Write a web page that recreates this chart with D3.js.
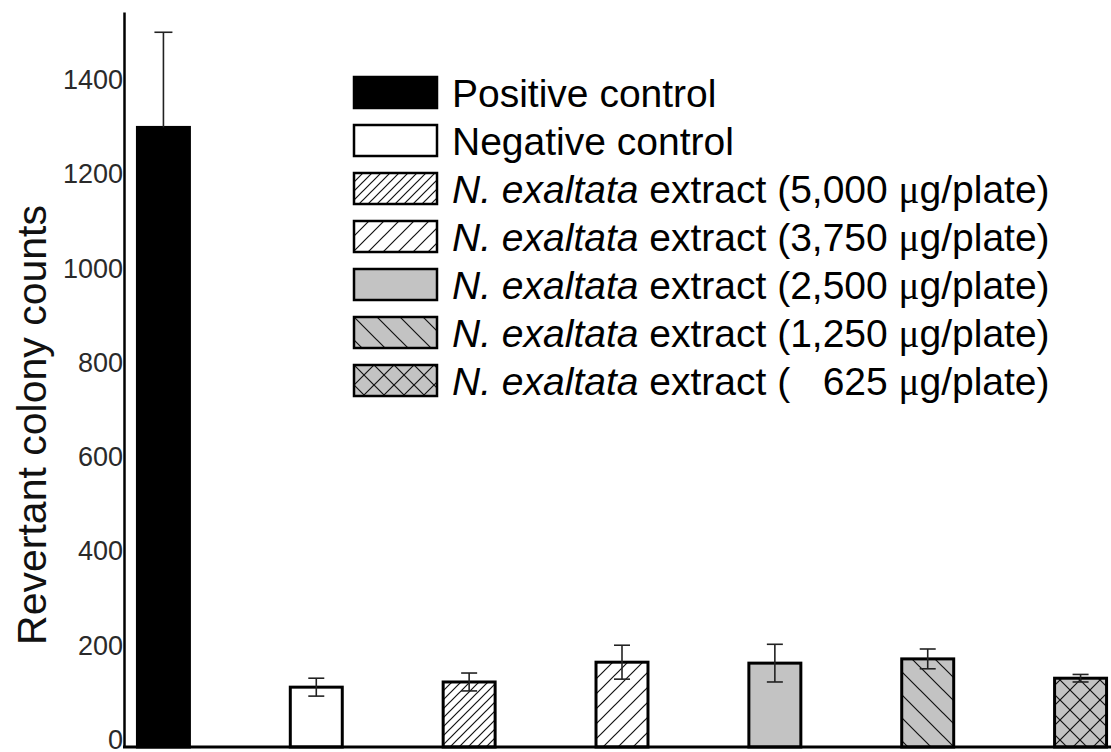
<!DOCTYPE html>
<html lang="en">
<head>
	<meta charset="UTF-8">
	<title>Revertant colony counts</title>
	<script src="https://d3js.org/d3.v7.min.js"></script>
	<style>
		body{ margin:0; background:#fff; }
		text{ font-family:"Liberation Sans", Arial, sans-serif; }
		.tick text{ fill:#2a2a2a; font-size:27px; }
		.domain{ stroke:#000; stroke-width:2.5px; }
		.bar{ stroke:#000; stroke-width:3px; }
		.err{ stroke:#222; stroke-width:1.6px; fill:none; }
	</style>
</head>
<body>
	<script type="text/javascript">
		// data
		var groups = ["Positive control", "Negative control", "5,000", "3,750", "2,500", "1,250", "625"];
		var means  = [1315, 127, 138, 180, 178, 187, 146];
		var sds    = [202, 19, 19, 36, 40, 21, 8];
		var fills  = ["#000", "#fff", "url(#hatchDense)", "url(#hatchWide)", "#c3c3c3", "url(#hatchBack)", "url(#cross)"];
		var doses  = ["5,000", "3,750", "2,500", "1,250", "   625"];
		var yTicks = [0, 200, 400, 600, 800, 1000, 1200, 1400];

		var width = 1111, height = 752;
		var svg = d3.select("body").append("svg")
			.attr("width", width)
			.attr("height", height);

		// hatch patterns
		var defs = svg.append("defs");
		function hatch(id, s, bg, dirs){
			var p = defs.append("pattern")
				.attr("id", id)
				.attr("patternUnits", "userSpaceOnUse")
				.attr("width", s).attr("height", s);
			p.append("rect").attr("width", s).attr("height", s).attr("fill", bg);
			dirs.forEach(function(d){
				var path = d == "/" ?
					"M0," + s + "L" + s + ",0M-2,2L2,-2M" + (s-2) + "," + (s+2) + "L" + (s+2) + "," + (s-2) :
					"M0,0L" + s + "," + s + "M-2," + (s-2) + "L2," + (s+2) + "M" + (s-2) + ",-2L" + (s+2) + ",2";
				p.append("path").attr("d", path).attr("stroke", "#111").attr("stroke-width", 1.2);
			});
		}
		hatch("hatchDense", 9, "#fff", ["/"]);
		hatch("hatchWide", 15, "#fff", ["/"]);
		hatch("hatchBack", 23, "#c3c3c3", ["\\"]);
		hatch("cross", 20, "#c3c3c3", ["/", "\\"]);

		var x = d3.scaleBand()
			.domain(groups)
			.range([87, 1157])
			.paddingInner(0.66)
			.paddingOuter(0.33);

		var y = d3.scaleLinear()
			.domain([0, 1560])
			.range([747, 12]);

		var data = groups.map(function(g, i){
			return {g: g, mean: means[i], sd: sds[i], fill: fills[i]};
		});

		// bars
		svg.selectAll(".bar")
			.data(data)
			.enter().append("rect")
			.attr("class", "bar")
			.attr("x", function(d){ return x(d.g); })
			.attr("y", function(d){ return y(d.mean); })
			.attr("width", x.bandwidth())
			.attr("height", function(d){ return y(0) - y(d.mean); })
			.attr("fill", function(d){ return d.fill; });

		// error bars (positive control shows upper whisker only)
		var err = svg.selectAll(".err")
			.data(data)
			.enter().append("g")
			.attr("class", "err")
			.attr("transform", function(d){ return "translate(" + (x(d.g) + x.bandwidth() / 2) + ",0)"; });
		err.append("line")
			.attr("y1", function(d, i){ return i == 0 ? y(d.mean) : y(d.mean - d.sd); })
			.attr("y2", function(d){ return y(d.mean + d.sd); });
		err.append("line")
			.attr("x1", function(d, i){ return i == 0 ? -9 : -8; })
			.attr("x2", function(d, i){ return i == 0 ? 9 : 8; })
			.attr("y1", function(d){ return y(d.mean + d.sd); })
			.attr("y2", function(d){ return y(d.mean + d.sd); });
		err.filter(function(d, i){ return i > 0; }).append("line")
			.attr("x1", -8).attr("x2", 8)
			.attr("y1", function(d){ return y(d.mean - d.sd); })
			.attr("y2", function(d){ return y(d.mean - d.sd); });

		// y axis
		var yAxis = svg.append("g")
			.attr("transform", "translate(124,0)")
			.call(d3.axisLeft(y).tickValues(yTicks).tickFormat(d3.format("d"))
				.tickSize(0).tickSizeOuter(0).tickPadding(1));
		yAxis.selectAll(".tick text").attr("dy", "0.05em");

		// baseline
		svg.append("line")
			.attr("x1", 123).attr("x2", width)
			.attr("y1", y(0)).attr("y2", y(0))
			.attr("stroke", "#000").attr("stroke-width", 3);

		svg.append("text")
			.attr("transform", "translate(46,425) rotate(-90)")
			.attr("text-anchor", "middle")
			.style("font-size", "41px")
			.attr("fill", "#111")
			.text("Revertant colony counts");

		// legend
		var legend = svg.append("g").attr("transform", "translate(354,77)");
		var rows = legend.selectAll(".row")
			.data(data)
			.enter().append("g")
			.attr("transform", function(d, i){ return "translate(0," + (i * 48) + ")"; });
		rows.append("rect")
			.attr("width", 83).attr("height", 31)
			.attr("fill", function(d){ return d.fill; })
			.attr("stroke", "#000").attr("stroke-width", 2.5);
		var lt = rows.append("text")
			.attr("x", 98).attr("y", 30)
			.style("font-size", "39px")
			.style("white-space", "pre")
			.attr("fill", "#000");
		lt.filter(function(d, i){ return i < 2; }).text(function(d){ return d.g; });
		var ext = lt.filter(function(d, i){ return i >= 2; });
		ext.append("tspan").style("font-style", "italic").text("N. exaltata");
		ext.append("tspan").text(function(d, i){ return " extract (" + doses[i] + " "; });
		ext.append("tspan").style("font-family", "'Liberation Serif', serif").text("\u03bc");
		ext.append("tspan").text("g/plate)");
	</script>
</body>
</html>
